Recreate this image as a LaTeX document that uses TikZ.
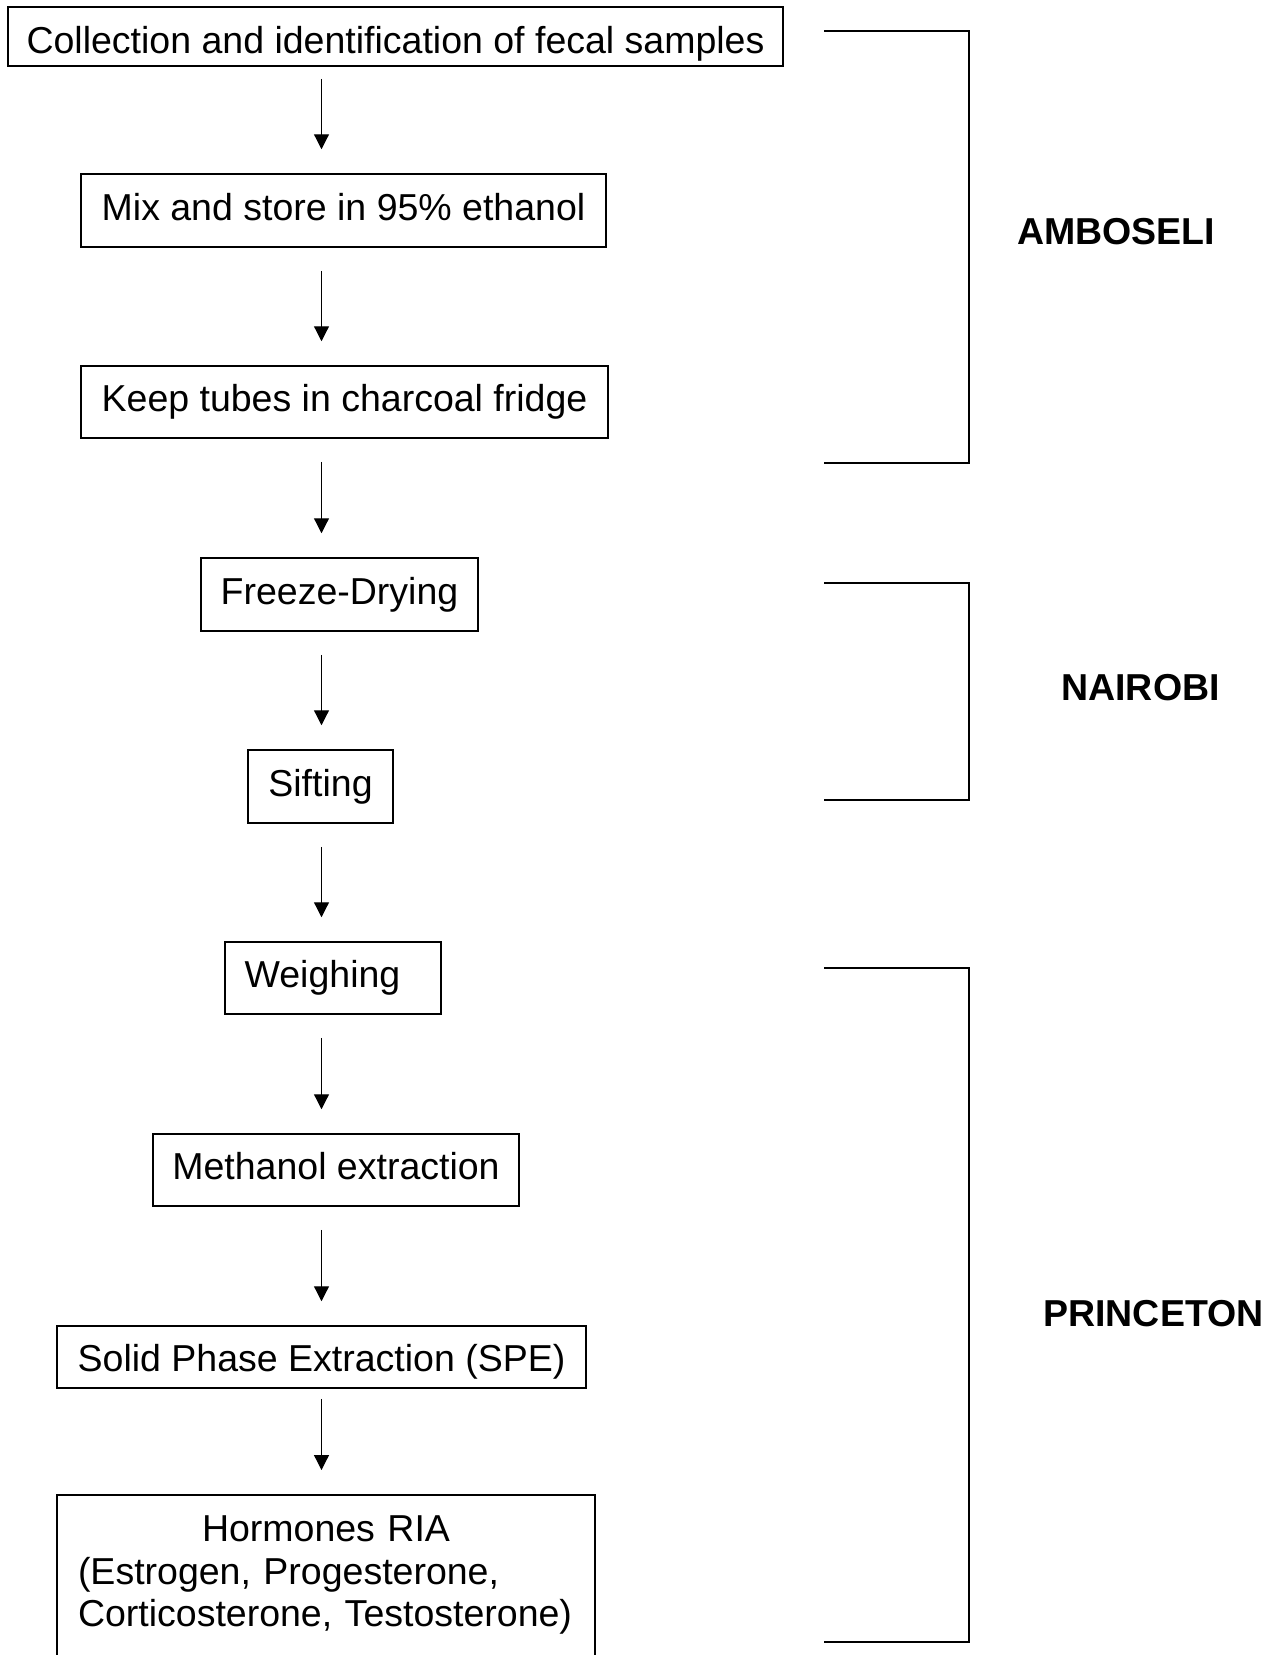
\documentclass[tikz,border=0pt]{standalone}
\usepackage{fontspec}
\setmainfont{Liberation Sans}
\usetikzlibrary{arrows.meta}
\tikzstyle{paso} = [draw, line width=0.75pt, inner sep=0pt, text height=14.06pt, text depth=4.1pt, font=\fontsize{18.75pt}{21.25pt}\selectfont]
\tikzstyle{flecha} = [-{Triangle[width=7.5pt,length=7.5pt]}, line width=0.6pt, shorten <=11.5pt, shorten >=12pt]
\tikzstyle{llave} = [line width=0.75pt]
\tikzstyle{lugar} = [inner sep=0pt, font=\fontsize{18.75pt}{21.25pt}\selectfont\bfseries]

\begin{document}
\begin{tikzpicture}[x=0.5pt, y=-0.5pt]
		\useasboundingbox (0,0) rectangle (1273,1655);
		\clip (0,0) rectangle (1273,1655);
		\coordinate (col) at (321.5,0);
		% pasos
		\node[paso, minimum width=387.5pt, minimum height=29.5pt, text height=16.5pt, text depth=0pt] (coleccion) at (395.5,36.5) {Collection and identification of fecal samples};
		\node[paso, minimum width=262.5pt, minimum height=36.5pt] (mezcla) at (343.5,210.5) {Mix and store in 95\% ethanol};
		\node[paso, minimum width=263.5pt, minimum height=36pt] (nevera) at (344.5,402) {Keep tubes in charcoal fridge};
		\node[paso, minimum width=138.5pt, minimum height=36.5pt] (liofilizado) at (339.5,594.5) {Freeze-Drying};
		\node[paso, minimum width=72.5pt, minimum height=36.5pt] (tamizado) at (320.5,786.5) {Sifting};
		\node[paso, minimum width=108pt, minimum height=36pt] (pesado) at (333,978) {Weighing\hspace*{10.5pt}};
		\node[paso, minimum width=183pt, minimum height=36pt] (metanol) at (336,1170) {Methanol extraction};
		\node[paso, minimum width=264.5pt, minimum height=31pt, text height=14pt, text depth=0pt] (spe) at (321.5,1357) {Solid Phase Extraction (SPE)};
		\node[paso, anchor=north, text width=248pt, align=left, inner xsep=10.5pt, inner ysep=10pt, text height=13.5pt, text depth=80pt] (ria) at (326,1494) {\makebox[\linewidth]{Hormones RIA}\\
			(Estrogen, Progesterone,\\
			Corticosterone, Testosterone)};
		% flechas
		\draw[flecha, shorten <=6pt] (coleccion.south -| col) -- (mezcla.north -| col);
		\draw[flecha] (mezcla.south -| col) -- (nevera.north -| col);
		\draw[flecha] (nevera.south -| col) -- (liofilizado.north -| col);
		\draw[flecha] (liofilizado.south -| col) -- (tamizado.north -| col);
		\draw[flecha] (tamizado.south -| col) -- (pesado.north -| col);
		\draw[flecha] (pesado.south -| col) -- (metanol.north -| col);
		\draw[flecha] (metanol.south -| col) -- (spe.north -| col);
		\draw[flecha, shorten <=5pt] (spe.south -| col) -- (ria.north -| col);
		% llaves
		\draw[llave] (824,31) -- (969,31) -- (969,463) -- (824,463);
		\draw[llave] (824,583) -- (969,583) -- (969,800) -- (824,800);
		\draw[llave] (824,968) -- (969,968) -- (969,1642) -- (824,1642);
		\node[lugar, anchor=base west] (amboseli) at (1017,244) {AMBOSELI};
		\node[lugar, anchor=base west] (nairobi) at (1061,700) {NAIROBI};
		\node[lugar, anchor=base west] (princeton) at (1043,1326) {PRINCETON};
	\end{tikzpicture}
\end{document}
